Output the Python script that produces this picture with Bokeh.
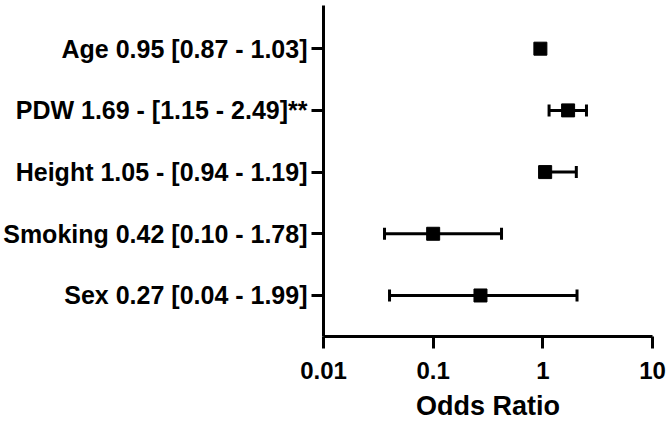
from bokeh.plotting import figure
from bokeh.models import ColumnDataSource, Range1d, FixedTicker, Whisker, TeeHead
from bokeh.embed import file_html
from bokeh.resources import INLINE

# ---- data ----
labels = [
    "Age 0.95 [0.87 - 1.03]",
    "PDW 1.69 - [1.15 - 2.49]**",
    "Height 1.05 - [0.94 - 1.19]",
    "Smoking 0.42 [0.10 - 1.78]",
    "Sex 0.27 [0.04 - 1.99]",
]
odds = [0.95, 1.70, 1.05, 0.10, 0.27]
lower = [0.87, 1.14, 0.94, 0.036, 0.040]
upper = [1.03, 2.50, 2.02, 0.42, 2.05]
x_ticks = [0.01, 0.1, 1, 10]
x_tick_labels = ["0.01", "0.1", "1", "10"]
x_title = "Odds Ratio"

rows = list(range(len(labels), 0, -1))

FONT = "Liberation Sans"

src = ColumnDataSource(dict(y=rows, x=odds, lo=lower, hi=upper))

p = figure(
    width=668, height=424,
    x_axis_type="log",
    x_range=Range1d(0.01, 10),
    y_range=Range1d(0.335, 5.70),
    output_backend="svg",
    toolbar_location=None,
    min_border_left=322, min_border_right=16,
    min_border_top=5, min_border_bottom=88,
)
p.outline_line_color = None
p.xgrid.visible = False
p.ygrid.visible = False
p.background_fill_color = "white"
p.border_fill_color = "white"

w = Whisker(
    source=src, base="y", lower="lo", upper="hi", dimension="width",
    line_color="black", line_width=3, level="underlay",
    upper_head=TeeHead(size=12, line_width=3, line_color="black"),
    lower_head=TeeHead(size=12, line_width=3, line_color="black"),
)
p.add_layout(w)

p.scatter("x", "y", source=src, marker="square", size=13,
          fill_color="black", line_color="black")

# x axis
xa = p.xaxis[0]
xa.ticker = FixedTicker(ticks=x_ticks, minor_ticks=[])
xa.major_label_overrides = {t: l for t, l in zip(x_ticks, x_tick_labels)}
xa.axis_label = x_title
xa.axis_line_width = 3
xa.axis_line_color = "black"
xa.major_tick_line_width = 3
xa.major_tick_line_color = "black"
xa.major_tick_out = 12
xa.major_tick_in = 0
xa.minor_tick_line_color = None
xa.major_label_text_font = FONT
xa.major_label_text_font_style = "bold"
xa.major_label_text_font_size = "24px"
xa.major_label_text_color = "black"
xa.major_label_standoff = 13
xa.axis_label_text_font = FONT
xa.axis_label_text_font_style = "bold"
xa.axis_label_text_font_size = "27px"
xa.axis_label_text_color = "black"
xa.axis_label_standoff = 9

# y axis
ya = p.yaxis[0]
ya.ticker = FixedTicker(ticks=rows, minor_ticks=[])
ya.major_label_overrides = {r: l for r, l in zip(rows, labels)}
ya.axis_line_width = 3
ya.axis_line_color = "black"
ya.major_tick_line_width = 3
ya.major_tick_line_color = "black"
ya.major_tick_out = 12
ya.major_tick_in = 0
ya.minor_tick_line_color = None
ya.major_label_text_font = FONT
ya.major_label_text_font_style = "bold"
ya.major_label_text_font_size = "25px"
ya.major_label_text_color = "black"
ya.major_label_standoff = 4

open("out.html", "w").write(file_html(p, INLINE))
